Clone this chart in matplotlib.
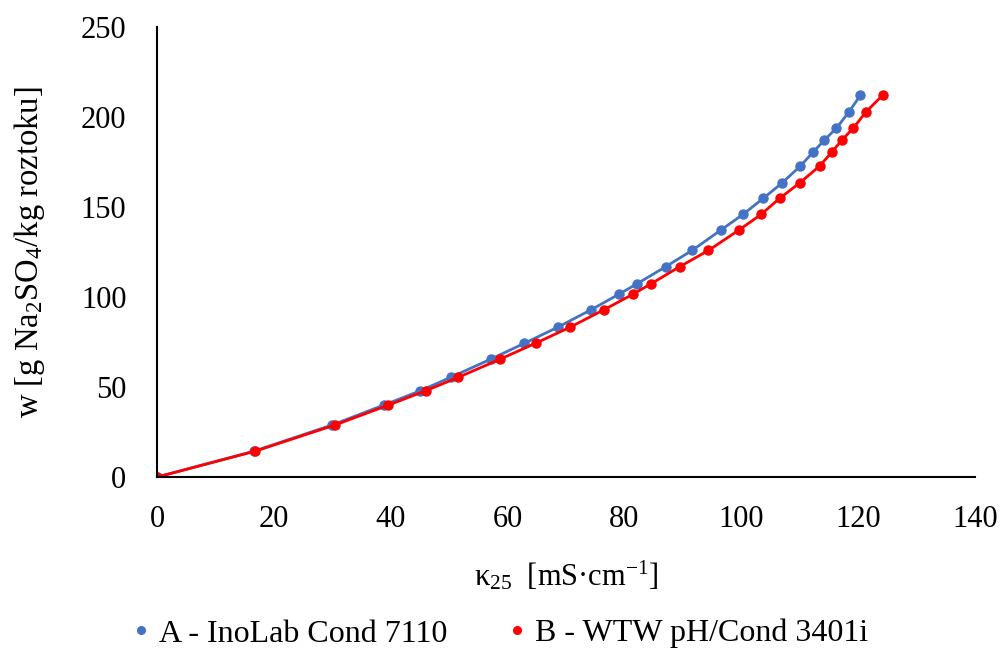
import numpy as np
import matplotlib.pyplot as plt

plt.rcParams['font.family'] = ['Liberation Serif', 'DejaVu Serif']
plt.rcParams['mathtext.default'] = 'regular'

# Hmotnostní zlomek (společný pro obě řady)
w = [0, 14.4, 29.0, 40.0, 48.0, 55.5, 65.5, 74.4, 83.3, 93.0, 101.7, 107.5,
     117.0, 126.0, 137.5, 146.0, 155.0, 163.5, 172.8, 180.6, 187.2, 194.0,
     202.8, 212.2]

# Vodivost - A (InoLab Cond 7110)
kappa_a = [0, 16.6, 30.0, 38.8, 45.1, 50.3, 57.1, 62.9, 68.6, 74.3, 79.1, 82.2,
           87.1, 91.6, 96.6, 100.3, 103.8, 107.0, 110.1, 112.3, 114.2, 116.3,
           118.4, 120.4]

# Vodivost - B (WTW pH/Cond 3401i)
kappa_b = [0, 16.8, 30.5, 39.6, 46.0, 51.6, 58.7, 64.8, 70.7, 76.5, 81.5, 84.6,
           89.5, 94.4, 99.7, 103.4, 106.6, 110.0, 113.4, 115.5, 117.2, 119.2,
           121.3, 124.2]

labels = ['A - InoLab Cond 7110', 'B - WTW pH/Cond 3401i']
colors = ['#4472C4', '#FF0000']

fig = plt.figure(figsize=(10.03, 6.5), dpi=100)
ax = fig.add_axes([0.1565, 0.266, 0.8155, 0.692])

for xs, lab, c in zip([kappa_a, kappa_b], labels, colors):
    ax.plot(xs, w, color=c, linewidth=2.0, marker='o', markersize=6.5,
            label=lab)

ax.set_xlim(0, 140)
ax.set_ylim(0, 250)
ax.set_xticks(np.arange(0, 141, 20))
ax.set_yticks(np.arange(0, 251, 50))
ax.tick_params(length=0, labelsize=22)
ax.tick_params(axis='x', pad=20)
ax.tick_params(axis='y', pad=22)

for s in ['top', 'right']:
    ax.spines[s].set_visible(False)
for s in ['left', 'bottom']:
    ax.spines[s].set_linewidth(1.5)
    ax.spines[s].set_color('black')

ax.set_xlabel(r'κ$_{25}$  [mS·cm$^{-1}$]', fontsize=22, labelpad=18)
ax.set_ylabel(r'w [g Na$_2$SO$_4$/kg roztoku]', fontsize=23.5, labelpad=24)

# legenda jen s body, bez čar
handles = [plt.Line2D([], [], color=c, marker='o', linestyle='none',
                      markersize=5.5) for c in colors]
fig.legend(handles, labels, loc='center', bbox_to_anchor=(0.495, 0.025),
           ncol=2, frameon=False, fontsize=23, handletextpad=0.05,
           columnspacing=1.7, handlelength=1.0)

fig.savefig('out.png', dpi=100)
